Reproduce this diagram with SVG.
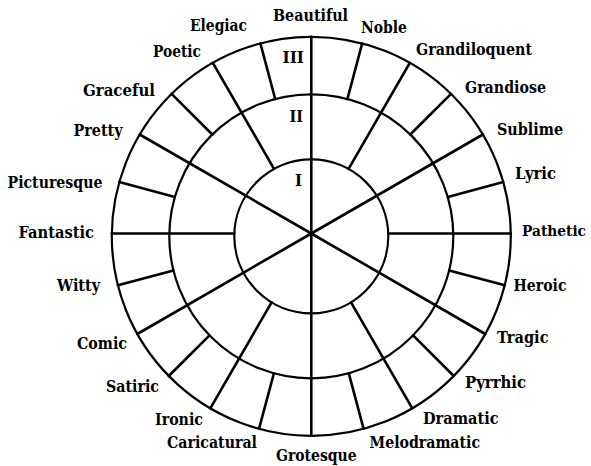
<svg xmlns="http://www.w3.org/2000/svg" width="591" height="466" viewBox="0 0 591 466">
<style>
.ring{fill:none;stroke:#000;stroke-width:2.2}
.sp{stroke:#000;stroke-width:2.6;stroke-linecap:round;fill:none}
text{font-family:"DejaVu Serif","Liberation Serif",serif;font-weight:bold;font-size:16px;fill:#000}
.rn{font-size:17px}
.sm{font-size:14.5px}
</style>
<rect width="591" height="466" fill="#fff"/>
<g id="wheel">
<circle class="ring" cx="311.3" cy="236.3" r="199.5"/>
<circle class="ring" cx="311.3" cy="236.3" r="142"/>
<circle class="ring" cx="311.3" cy="236.3" r="77"/>
</g>
<g id="connectors">
<line class="sp" x1="311.3" y1="233.5" x2="311.3" y2="36.8"/>
<line class="sp" x1="311.3" y1="233.5" x2="311.3" y2="435.8"/>
<line class="sp" x1="311.3" y1="233.5" x2="482.9" y2="134.5"/>
<line class="sp" x1="311.3" y1="233.5" x2="139.7" y2="134.5"/>
<line class="sp" x1="311.3" y1="233.5" x2="137.3" y2="334"/>
<line class="sp" x1="311.3" y1="233.5" x2="485.3" y2="334"/>
<line class="sp" x1="388.3" y1="233.5" x2="510.8" y2="233.5"/>
<line class="sp" x1="234.3" y1="233.5" x2="111.8" y2="233.5"/>
<line class="sp" x1="348.6" y1="168.9" x2="409.8" y2="62.8"/>
<line class="sp" x1="274" y1="168.9" x2="212.8" y2="62.8"/>
<line class="sp" x1="271.6" y1="302.3" x2="210.3" y2="408.4"/>
<line class="sp" x1="351" y1="302.3" x2="412.3" y2="408.4"/>
<line class="sp" x1="447.8" y1="196.9" x2="503.3" y2="182.1"/>
<line class="sp" x1="174.8" y1="196.9" x2="119.3" y2="182.1"/>
<line class="sp" x1="410.3" y1="134.5" x2="451" y2="93.8"/>
<line class="sp" x1="212.3" y1="134.5" x2="171.6" y2="93.8"/>
<line class="sp" x1="347.4" y1="99" x2="362.2" y2="43.4"/>
<line class="sp" x1="275.2" y1="99" x2="260.4" y2="43.4"/>
<line class="sp" x1="173.4" y1="270.4" x2="117.9" y2="285.3"/>
<line class="sp" x1="449.2" y1="270.4" x2="504.7" y2="285.3"/>
<line class="sp" x1="209.5" y1="335.3" x2="168.8" y2="376"/>
<line class="sp" x1="413.1" y1="335.3" x2="453.8" y2="376"/>
<line class="sp" x1="273.9" y1="373.3" x2="259" y2="428.8"/>
<line class="sp" x1="348.8" y1="373.3" x2="363.6" y2="428.8"/>
</g>
<g id="rings-labels">
<text class="rn" x="282.5" y="63" textLength="21.5" lengthAdjust="spacingAndGlyphs">III</text>
<text class="rn" x="289.5" y="121.5" textLength="13.5" lengthAdjust="spacingAndGlyphs">II</text>
<text class="rn" x="295" y="185.5" textLength="7" lengthAdjust="spacingAndGlyphs">I</text>
</g>
<g id="beautiful"><text x="273" y="20.5" textLength="75" lengthAdjust="spacingAndGlyphs">Beautiful</text></g>
<g id="noble"><text x="361" y="33" textLength="46" lengthAdjust="spacingAndGlyphs">Noble</text></g>
<g id="grandiloquent"><text x="416" y="55" textLength="116" lengthAdjust="spacingAndGlyphs">Grandiloquent</text></g>
<g id="grandiose"><text x="465" y="93" textLength="81" lengthAdjust="spacingAndGlyphs">Grandiose</text></g>
<g id="sublime"><text x="497" y="134.5" textLength="66" lengthAdjust="spacingAndGlyphs">Sublime</text></g>
<g id="lyric"><text x="515" y="179" textLength="41" lengthAdjust="spacingAndGlyphs">Lyric</text></g>
<g id="pathetic"><text class="sm" x="522" y="236" textLength="64" lengthAdjust="spacingAndGlyphs">Pathetic</text></g>
<g id="heroic"><text x="513.5" y="291" textLength="53" lengthAdjust="spacingAndGlyphs">Heroic</text></g>
<g id="tragic"><text x="497" y="343" textLength="51.5" lengthAdjust="spacingAndGlyphs">Tragic</text></g>
<g id="pyrrhic"><text x="465" y="388" textLength="61" lengthAdjust="spacingAndGlyphs">Pyrrhic</text></g>
<g id="dramatic"><text x="423" y="424" textLength="75.5" lengthAdjust="spacingAndGlyphs">Dramatic</text></g>
<g id="melodramatic"><text x="369.5" y="448" textLength="110.5" lengthAdjust="spacingAndGlyphs">Melodramatic</text></g>
<g id="grotesque"><text x="276" y="460.5" textLength="80.5" lengthAdjust="spacingAndGlyphs">Grotesque</text></g>
<g id="caricatural"><text x="167" y="448" textLength="90" lengthAdjust="spacingAndGlyphs">Caricatural</text></g>
<g id="ironic"><text x="155" y="425" textLength="48" lengthAdjust="spacingAndGlyphs">Ironic</text></g>
<g id="satiric"><text x="106" y="391.5" textLength="53" lengthAdjust="spacingAndGlyphs">Satiric</text></g>
<g id="comic"><text x="77" y="349" textLength="50" lengthAdjust="spacingAndGlyphs">Comic</text></g>
<g id="witty"><text x="57" y="290.5" textLength="43" lengthAdjust="spacingAndGlyphs">Witty</text></g>
<g id="fantastic"><text x="18.5" y="238" textLength="75.5" lengthAdjust="spacingAndGlyphs">Fantastic</text></g>
<g id="picturesque"><text x="7.5" y="188" textLength="95" lengthAdjust="spacingAndGlyphs">Picturesque</text></g>
<g id="pretty"><text x="73.5" y="135.5" textLength="49" lengthAdjust="spacingAndGlyphs">Pretty</text></g>
<g id="graceful"><text x="83" y="96" textLength="72" lengthAdjust="spacingAndGlyphs">Graceful</text></g>
<g id="poetic"><text x="153" y="57" textLength="48" lengthAdjust="spacingAndGlyphs">Poetic</text></g>
<g id="elegiac"><text x="190" y="30.5" textLength="57" lengthAdjust="spacingAndGlyphs">Elegiac</text></g>
</svg>
